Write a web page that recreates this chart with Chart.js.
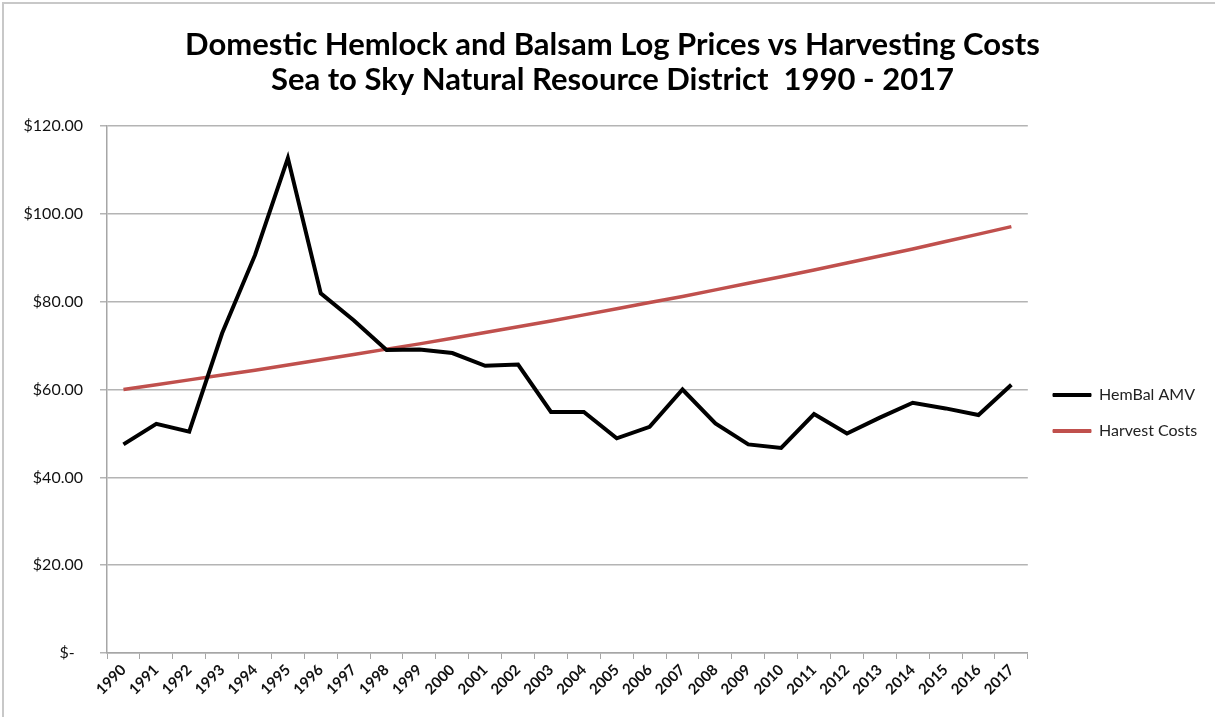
<!DOCTYPE html>
<html>
<head>
<meta charset="utf-8">
<script src="https://cdn.jsdelivr.net/npm/chart.js@4.4.1/dist/chart.umd.min.js"></script>
<style>
  html, body { margin: 0; padding: 0; background: #fff; }
  #wrap { width: 1215px; height: 717px; }
</style>
</head>
<body>
<div id="wrap"><canvas id="chartPrices" width="1215" height="717"></canvas></div>
<script>
var years = ["1990","1991","1992","1993","1994","1995","1996","1997","1998","1999",
    "2000","2001","2002","2003","2004","2005","2006","2007","2008","2009",
    "2010","2011","2012","2013","2014","2015","2016","2017"];
var hembalAmv = [47.5, 52.2, 50.4, 72.8, 90.6, 112.7, 81.9, 75.8, 69.0, 69.1,
    68.3, 65.4, 65.7, 54.9, 54.9, 48.9, 51.5, 60.0, 52.3, 47.5,
    46.7, 54.4, 50.0, 53.6, 57.0, 55.7, 54.2, 61.1];
var harvestCosts = [60.0, 61.1, 62.2, 63.3, 64.4, 65.6, 66.8, 68.0, 69.2, 70.4,
    71.7, 73.0, 74.3, 75.6, 77.0, 78.4, 79.8, 81.2, 82.7, 84.2,
    85.7, 87.2, 88.8, 90.4, 92.0, 93.7, 95.4, 97.1];
var titleLines = ["Domestic Hemlock and Balsam Log Prices vs Harvesting Costs",
    "Sea to Sky Natural Resource District  1990 - 2017"];

// white background and thin frame like the pasted Excel chart
var frame = {
    id: "frame",
    beforeDraw: function (c) {
        var ctx = c.ctx;
        ctx.save();
        ctx.fillStyle = "#fff";
        ctx.fillRect(0, 0, c.width, c.height);
        ctx.strokeStyle = "#c8c8c8";
        ctx.lineWidth = 2;
        ctx.strokeRect(3, 3, c.width + 10, c.height + 10);
        ctx.restore();
    }
};

// put the legend where Excel had it (right of plot, near the middle)
// and centre the title on the whole picture
var legendSpot = {
    id: "legendSpot",
    afterLayout: function (c) {
        var lg = c.legend;
        lg.left = 1033;
        lg.right = 1215;
        lg.width = 182;
        lg.top = 367;
        lg.bottom = 717;
        lg.height = 350;
        var tb = c.titleBlock;
        tb.left = 10;
        tb.right = 1215;
        tb.width = 1205;
    }
};

var prices = document.getElementById("chartPrices").getContext("2d");
var chart = new Chart(prices, {
    type: "line",
    data: {
        labels: years,
        datasets: [
            {
                label: "HemBal AMV",
                data: hembalAmv,
                borderColor: "#000000",
                backgroundColor: "#000000",
                borderWidth: 4,
                pointRadius: 0,
                tension: 0
            },
            {
                label: "Harvest Costs",
                data: harvestCosts,
                borderColor: "#c0504d",
                backgroundColor: "#c0504d",
                borderWidth: 3.5,
                pointRadius: 0,
                tension: 0
            }
        ]
    },
    options: {
        responsive: false,
        animation: false,
        layout: { padding: { left: 0, right: 13, top: 0, bottom: 0 } },
        plugins: {
            title: {
                display: true,
                text: titleLines,
                color: "#000",
                font: { family: "Lato", size: 31, weight: "bold", lineHeight: 1.13 },
                padding: { top: 27, bottom: 29 }
            },
            legend: {
                position: "right",
                align: "start",
                labels: {
                    color: "#222",
                    font: { family: "Lato", size: 16 },
                    boxWidth: 38,
                    boxHeight: 3,
                    padding: 20,
                    generateLabels: function (c) {
                        var items = Chart.defaults.plugins.legend.labels.generateLabels(c);
                        items.forEach(function (it) { it.lineWidth = 1; });
                        return items;
                    }
                }
            },
            tooltip: { enabled: false }
        },
        scales: {
            x: {
                offset: true,
                grid: { offset: true, drawOnChartArea: false, color: "#a6a6a6", tickLength: 6 },
                border: { color: "#a6a6a6", width: 1.5 },
                ticks: {
                    color: "#111",
                    font: { family: "Lato", size: 15, weight: "bold" },
                    minRotation: 45,
                    maxRotation: 45,
                    autoSkip: false,
                    padding: 2
                },
                afterFit: function (s) { s.height = 64; }
            },
            y: {
                min: 0,
                max: 120,
                grid: { color: "#b4b4b4", lineWidth: 1.5, tickLength: 7 },
                border: { color: "#a6a6a6", width: 1.5 },
                ticks: {
                    stepSize: 20,
                    color: "#111",
                    font: { family: "Lato", size: 16 },
                    padding: 17,
                    callback: function (v) { return v === 0 ? "$-  " : "$" + v.toFixed(2); }
                },
                afterFit: function (s) { s.width = 107; }
            }
        }
    },
    plugins: [frame, legendSpot]
});
</script>
</body>
</html>
